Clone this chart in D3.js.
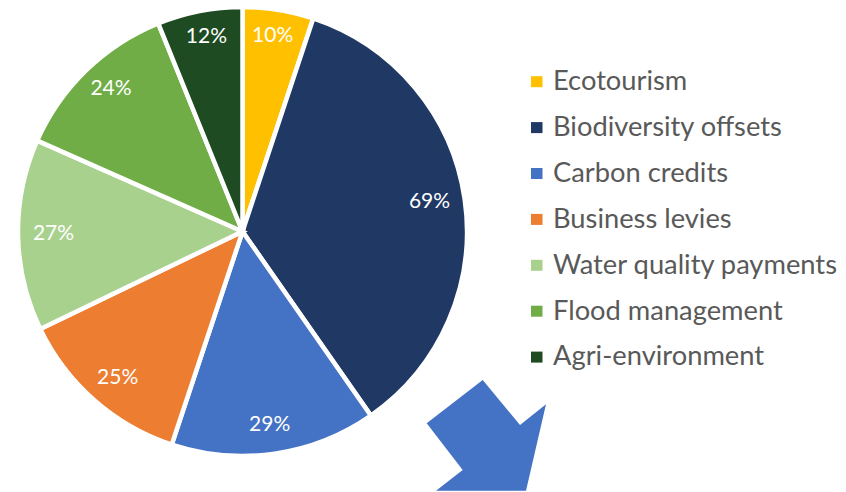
<!DOCTYPE html>
<html>
<head>
<meta charset="utf-8">
<script src="https://cdn.jsdelivr.net/npm/d3@7"></script>
<style>
  html, body { margin: 0; padding: 0; background: #ffffff; }
  svg { display: block; }
</style>
</head>
<body>
<svg id="chart" width="846" height="492"></svg>
<script>
// Funding sources and their share labels
const categories = [
  "Ecotourism",
  "Biodiversity offsets",
  "Carbon credits",
  "Business levies",
  "Water quality payments",
  "Flood management",
  "Agri-environment"
];
const values = [10, 69, 29, 25, 27, 24, 12];
const labels = ["10%", "69%", "29%", "25%", "27%", "24%", "12%"];
const colors = ["#FFC000", "#203864", "#4472C4", "#ED7D31", "#A9D18E", "#70AD47", "#1E4B22"];

const svg = d3.select("#chart");
const font = "Lato, 'Open Sans', sans-serif";

const cx = 242.5, cy = 231.5, R = 224.5;
// label ring (slightly taller than wide)
const labelRx = 189, labelRy = 197;

const data = categories.map((c, i) => ({ name: c, value: values[i], label: labels[i], color: colors[i] }));

const pie = d3.pie().sort(null).value(d => d.value).startAngle(0).endAngle(2 * Math.PI);
const arcs = pie(data);

const arc = d3.arc().innerRadius(0).outerRadius(R);

const g = svg.append("g").attr("transform", `translate(${cx},${cy})`);

g.selectAll("path.slice")
  .data(arcs)
  .join("path")
  .attr("class", "slice")
  .attr("d", arc)
  .attr("fill", d => d.data.color)
  .attr("stroke", "#ffffff")
  .attr("stroke-width", 4.5)
  .attr("stroke-linejoin", "miter");

const mid = d => (d.startAngle + d.endAngle) / 2;

g.selectAll("text.val")
  .data(arcs)
  .join("text")
  .attr("class", "val")
  .attr("x", d => labelRx * Math.sin(mid(d)))
  .attr("y", d => -labelRy * Math.cos(mid(d)))
  .attr("dy", "0.24em")
  .attr("text-anchor", "middle")
  .attr("font-family", font)
  .attr("font-size", 21)
  .attr("fill", "#ffffff")
  .text(d => d.data.label);

// Legend
const legend = svg.append("g").attr("transform", "translate(531,81.7)");
const rowH = 45.9;
const rows = legend.selectAll("g.row")
  .data(data)
  .join("g")
  .attr("class", "row")
  .attr("transform", (d, i) => `translate(0,${i * rowH})`);

rows.append("rect")
  .attr("x", 0)
  .attr("y", -5.5)
  .attr("width", 11.5)
  .attr("height", 11)
  .attr("fill", d => d.color);

rows.append("text")
  .attr("x", 22)
  .attr("y", 8.3)
  .attr("font-family", font)
  .attr("font-size", 27.3)
  .attr("fill", "#595959")
  .text(d => d.name);

// Block arrow pointing down-right
const arrowPts = [
  [482.7, 380], [520, 425], [546, 404.3], [526, 490.7],
  [436, 490.7], [462.7, 470], [426.7, 423.3]
];
svg.append("path")
  .attr("d", d3.line()(arrowPts) + "Z")
  .attr("fill", "#4472C4");
</script>
</body>
</html>
